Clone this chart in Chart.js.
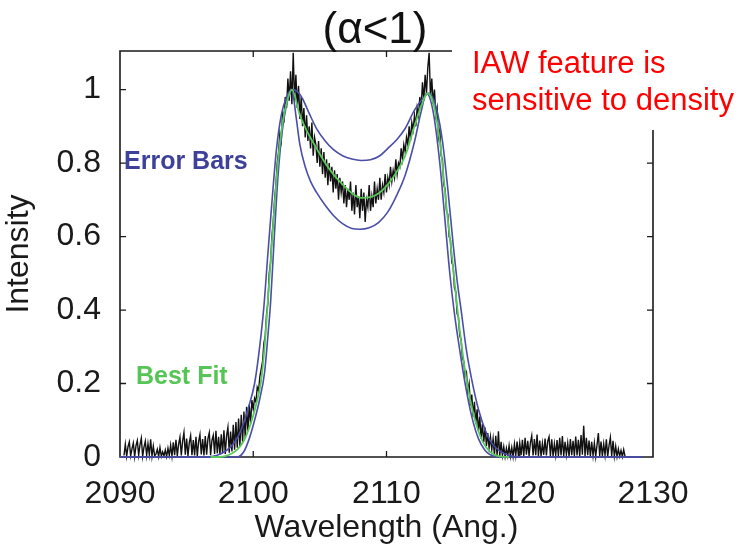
<!DOCTYPE html>
<html><head><meta charset="utf-8">
<script src="https://cdn.jsdelivr.net/npm/chart.js@4.4.1/dist/chart.umd.min.js"></script>
<style>html,body{margin:0;padding:0;background:#fff}#wrap{width:745px;height:550px}</style>
</head><body><div id="wrap"><canvas id="c" width="745" height="550"></canvas></div>
<script>
// ---- data ----
const xTicks = [2090, 2100, 2110, 2120, 2130];
const yTicks = [0, 0.2, 0.4, 0.6, 0.8, 1];

// measured spectrum: sampled every 0.1 Å starting at 2090.3
const measStart = 2090.3, measStep = 0.1;
const measuredIntensity = [
 0.004,0.035,0.002,0.028,0.041,0.003,0.022,0.038,0.001,0.031,
 0.045,0.005,0.033,0.051,0.002,0.027,0.043,0.004,0.036,0.006,
 0.048,0.002,0.03,0.003,0.008,0.021,0.001,0.026,0.002,0.014,
 0.003,0.019,0.001,0.024,0.004,0.032,0.002,0.04,0.005,0.047,
 0.003,0.035,0.054,0.004,0.044,0.067,0.006,0.05,0.003,0.039,
 0.058,0.005,0.046,0.004,0.055,0.002,0.042,0.061,0.007,0.049,
 0.004,0.057,0.006,0.05,0.066,0.005,0.045,0.059,0.008,0.071,
 0.01,0.055,
 0.006,0.062,0.01,0.073,0.008,0.058,0.081,0.012,0.069,0.015,
 0.088,0.02,0.095,0.025,0.105,0.03,0.115,0.04,0.124,0.05,
 0.137,0.07,0.142,0.09,0.155,
 0.13,0.16,0.15,0.19,0.18,0.22,0.24,0.26,0.31,0.33,
 0.39,0.42,0.5,0.53,0.6,0.64,0.7,0.74,0.8,0.83,
 0.88,0.86,0.94,0.91,0.98,0.95,1.03,0.97,1.05,
 0.96,1.1,0.97,1.04,0.95,1.01,0.92,0.98,0.9,0.95,
 0.87,0.93,0.86,0.9,0.84,0.91,0.82,0.87,0.85,0.8,
 0.86,0.79,0.84,0.77,0.83,0.76,0.81,0.74,0.8,0.75,
 0.79,0.72,0.78,0.73,0.77,0.7,0.76,0.72,0.75,0.69,
 0.74,0.68,0.73,0.7,0.75,0.67,0.72,0.66,0.74,0.68,
 0.71,0.65,0.73,0.67,0.72,0.64,0.7,0.68,0.74,0.67,
 0.71,0.68,0.75,0.69,0.73,0.7,0.76,0.7,0.74,0.72,
 0.77,0.72,0.76,0.74,0.79,0.75,0.78,0.76,0.81,0.77,
 0.8,0.79,0.84,0.81,0.85,0.83,0.87,0.85,0.9,0.86,
 0.91,0.89,0.93,0.9,0.95,0.93,0.98,0.95,1.02,0.97,
 1.04,0.99,1.06,1.1,0.98,
 1.03,0.96,1.0,0.93,0.95,0.87,0.89,0.82,0.81,0.74,
 0.73,0.67,0.66,0.6,0.59,0.53,0.52,0.46,0.45,0.39,
 0.38,0.33,0.32,0.27,0.26,0.22,0.23,0.18,0.2,0.14,
 0.17,0.11,0.15,0.09,0.13,0.07,0.11,0.05,0.09,0.04,
 0.08,0.03,0.065,0.025,0.055,0.02,0.05,
 0.005,0.058,0.003,0.07,0.002,0.041,0.004,0.028,0.001,0.024,
 0.003,0.031,0.002,0.026,0.001,0.035,0.004,0.042,0.003,0.038,
 0.005,0.047,0.002,0.052,0.006,0.044,0.003,0.039,0.058,0.004,
 0.049,0.005,0.061,0.003,0.045,0.002,0.037,0.006,0.05,0.004,
 0.043,0.055,0.003,0.048,0.002,0.036,0.005,0.046,0.003,0.052,
 0.004,0.057,0.002,0.041,0.006,0.038,0.001,0.049,0.005,0.044,
 0.003,0.056,0.004,0.047,0.002,0.06,0.006,0.085,0.003,0.052,
 0.005,0.045,0.002,0.041,0.004,0.038,0.001,0.033,0.065,0.003,
 0.042,0.002,0.036,0.005,0.048,0.001,0.031,0.053,0.003,0.044,
 0.002,0.029,0.001,0.022,0.002,0.018,0.001,0.02,0.002
];

// best fit curve
const fitWavelength = [2096.8,2097.5,2098.2,2098.8,2099.3,2099.8,2100.2,2100.6,2100.85,2101.05,2101.3,2101.55,2101.85,2102.2,2102.55,2102.9,2103.5,2104.2,2104.75,2105.4,2106.0,2106.7,2107.4,2108.1,2108.8,2109.5,2110.1,2110.8,2111.4,2112.1,2112.6,2113.1,2113.6,2114.1,2114.5,2114.9,2115.3,2115.65,2116.05,2116.5,2117.0,2117.5,2118.0,2118.6,2119.2];
const fitIntensity  = [0,0,0.006,0.02,0.045,0.09,0.14,0.21,0.3,0.4,0.53,0.66,0.8,0.91,0.97,1.0,0.93,0.875,0.84,0.8,0.77,0.742,0.718,0.705,0.707,0.72,0.742,0.778,0.82,0.9,0.955,0.99,0.95,0.83,0.68,0.55,0.41,0.3,0.2,0.12,0.06,0.025,0.008,0.001,0];

// error bar curve (upper dip, wider)
const errHiWavelength = [2090,2096.5,2097.3,2098.0,2098.6,2099.1,2099.6,2100.1,2100.45,2100.8,2101.05,2101.35,2101.75,2102.1,2102.45,2102.9,2103.3,2103.7,2104.2,2104.75,2105.4,2106.0,2106.7,2107.4,2108.1,2108.8,2109.5,2110.1,2110.8,2111.4,2112.1,2112.6,2113.2,2113.7,2114.2,2114.6,2115.0,2115.3,2115.6,2116.0,2116.4,2116.9,2117.5,2118.0,2118.7,2119.5,2120.5,2129.2];
const errHiIntensity  = [0,0,0.005,0.018,0.04,0.075,0.13,0.2,0.29,0.41,0.53,0.67,0.84,0.93,0.975,1.0,0.995,0.975,0.935,0.894,0.86,0.837,0.82,0.811,0.807,0.809,0.82,0.84,0.865,0.894,0.944,0.97,0.99,0.955,0.86,0.73,0.58,0.48,0.4,0.29,0.21,0.13,0.065,0.033,0.012,0.002,0,0];

// error bar curve (lower dip, narrower)
const errLoWavelength = [2090,2098.8,2099.3,2099.7,2100.1,2100.5,2100.85,2101.1,2101.3,2101.55,2101.85,2102.15,2102.45,2102.7,2102.9,2103.2,2103.5,2103.9,2104.3,2104.75,2105.4,2106.0,2106.7,2107.4,2108.0,2108.7,2109.4,2110.1,2110.8,2111.4,2112.1,2112.6,2113.0,2113.5,2114.0,2114.4,2114.75,2115.1,2115.5,2115.9,2116.4,2116.9,2117.4,2117.9,2118.4,2129.2];
const errLoIntensity  = [0,0,0.015,0.05,0.1,0.16,0.23,0.33,0.42,0.58,0.76,0.88,0.95,0.985,1.0,0.93,0.85,0.79,0.75,0.72,0.685,0.658,0.635,0.622,0.62,0.624,0.638,0.667,0.715,0.767,0.858,0.94,0.99,0.94,0.8,0.64,0.5,0.39,0.29,0.2,0.11,0.05,0.018,0.004,0,0];

// ---- build points ----
const pts = (xs, ys) => xs.map((x, i) => ({x, y: ys[i]}));
const measuredPts = measuredIntensity.map((y, i) => ({x: Math.round((measStart + i * measStep) * 10) / 10, y}));

const FONT = '"Liberation Sans", Arial, Helvetica, sans-serif';
const BLUE = '#4a4ea8', GREEN = '#58c858';

const frame = {
  id: 'frame',
  beforeDatasetsDraw(chart) {
    const {ctx, chartArea: a, scales: {x, y}} = chart;
    const gapLeft = 452, gapBottom = 130; // white label box covers the top-right corner
    ctx.save();
    ctx.strokeStyle = '#1a1a1a';
    ctx.lineWidth = 1.6;
    ctx.beginPath();
    ctx.moveTo(gapLeft, a.top); ctx.lineTo(a.left, a.top); ctx.lineTo(a.left, a.bottom);
    ctx.lineTo(a.right, a.bottom); ctx.lineTo(a.right, gapBottom);
    ctx.stroke();
    ctx.lineWidth = 1.3;
    ctx.beginPath();
    xTicks.forEach(v => {
      const px = x.getPixelForValue(v);
      if (px <= a.left + 1 || px >= a.right - 1) return;
      ctx.moveTo(px, a.bottom); ctx.lineTo(px, a.bottom - 6);
      if (px < gapLeft) { ctx.moveTo(px, a.top); ctx.lineTo(px, a.top + 6); }
    });
    yTicks.forEach(v => {
      const py = y.getPixelForValue(v);
      if (py >= a.bottom - 1) return;
      ctx.moveTo(a.left, py); ctx.lineTo(a.left + 6, py);
      if (py > gapBottom) { ctx.moveTo(a.right, py); ctx.lineTo(a.right - 6, py); }
    });
    ctx.stroke();
    ctx.restore();
  },
  afterDraw(chart) {
    const {ctx} = chart;
    ctx.save();
    ctx.textBaseline = 'alphabetic';
    ctx.fillStyle = '#111';
    ctx.font = '44px ' + FONT;
    ctx.textAlign = 'center';
    ctx.fillText('(α<1)', 375, 43);
    ctx.textAlign = 'left';
    ctx.fillStyle = '#ff0000';
    ctx.font = '31px ' + FONT;
    ctx.fillText('IAW feature is', 472, 73);
    ctx.fillText('sensitive to density', 472, 110);
    ctx.font = 'bold 25px ' + FONT;
    ctx.fillStyle = '#3e4199';
    ctx.fillText('Error Bars', 124, 169);
    ctx.fillStyle = '#55c655';
    ctx.fillText('Best Fit', 136, 384);
    ctx.restore();
  }
};

new Chart(document.getElementById('c'), {
  type: 'line',
  data: {
    datasets: [
      {label: 'Best Fit', data: pts(fitWavelength, fitIntensity), borderColor: GREEN, borderWidth: 1.8, pointRadius: 0, cubicInterpolationMode: 'monotone', order: 0, clip: false},
      {label: 'Error bar high', data: pts(errHiWavelength, errHiIntensity), borderColor: BLUE, borderWidth: 1.6, pointRadius: 0, cubicInterpolationMode: 'monotone', order: 1, clip: false},
      {label: 'Error bar low', data: pts(errLoWavelength, errLoIntensity), borderColor: BLUE, borderWidth: 1.6, pointRadius: 0, cubicInterpolationMode: 'monotone', order: 1, clip: false},
      {label: 'Data', data: measuredPts, borderColor: '#111111', borderWidth: 1.4, pointRadius: 0, tension: 0, order: 2, clip: false}
    ]
  },
  options: {
    responsive: false,
    animation: false,
    devicePixelRatio: 1,
    layout: {padding: {left: 0, right: 92, top: 51, bottom: 0}},
    plugins: {legend: {display: false}, tooltip: {enabled: false}, title: {display: false}},
    scales: {
      x: {
        type: 'linear', min: 2090, max: 2130,
        afterBuildTicks: s => { s.ticks = xTicks.map(v => ({value: v})); },
        afterFit: s => { s.height = 93; },
        grid: {display: false}, border: {display: false},
        ticks: {font: {family: FONT, size: 32}, color: '#1a1a1a', padding: 10, maxRotation: 0, autoSkip: false, callback: v => String(v)},
        title: {display: true, text: 'Wavelength (Ang.)', font: {family: FONT, size: 32}, color: '#1a1a1a', padding: {top: 0, bottom: 3}}
      },
      y: {
        type: 'linear', min: 0, max: 1.105,
        afterBuildTicks: s => { s.ticks = yTicks.map(v => ({value: v})); },
        afterFit: s => { s.width = 120; },
        grid: {display: false}, border: {display: false},
        ticks: {font: {family: FONT, size: 32}, color: '#1a1a1a', padding: 11, callback: v => String(v)},
        title: {display: true, text: 'Intensity', font: {family: FONT, size: 32}, color: '#1a1a1a', padding: {top: 0, bottom: 8}}
      }
    }
  },
  plugins: [frame]
});
</script>
</body></html>
